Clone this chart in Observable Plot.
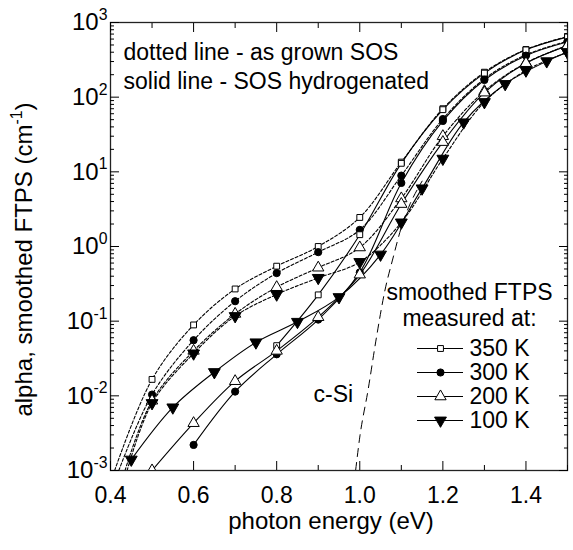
<!DOCTYPE html>
<html><head><meta charset="utf-8">
<script src="https://cdn.jsdelivr.net/npm/d3@7"></script>
<script src="https://cdn.jsdelivr.net/npm/@observablehq/plot@0.6"></script>
<style>
body{margin:0;background:#fff;}
#wrap{position:relative;width:573px;height:550px;font-family:"Liberation Sans",Arial,sans-serif;}
#legend{position:absolute;left:380px;top:280px;}
</style>
</head><body><div id="wrap"><div id="chart"></div><div id="legend"></div></div>
<script>
// ---- tick values ----
const xMajor = [0.4, 0.6, 0.8, 1.0, 1.2, 1.4];
const xMinor = [0.5, 0.7, 0.9, 1.1, 1.3, 1.5];
const yMajor = [1e-3, 1e-2, 1e-1, 1, 10, 100, 1000];

// ---- as grown SOS (dotted) ----
const grownEnergy = [0.5, 0.6, 0.7, 0.8, 0.9, 1.0, 1.1, 1.2, 1.3, 1.4, 1.5];
const grown350K = [0.0166, 0.089, 0.27, 0.545, 1.0, 2.45, 13.5, 70, 216, 435, 650];
const grown300K = [0.0104, 0.0556, 0.185, 0.44, 0.84, 1.67, 8.9, 51, 176, 369, 562];
const grown200K = [0.0086, 0.040, 0.125, 0.285, 0.52, 0.97, 4.4, 30, 120, 288, 492];
const grown100K = [0.0080, 0.037, 0.117, 0.228, 0.38, 0.62, 2.1, 15, 86, 228, 400];
// lead-in of the smoothed as-grown curves (where they leave the bottom edge)
const grownLeadEnergy = [0.41, 0.42, 0.435, 0.44];
const grownLeadAlpha = [0.001, 0.001, 0.001, 0.001];

// ---- SOS hydrogenated (solid) ----
const hydro350Energy = [0.8, 0.9, 1.0, 1.1, 1.2, 1.3, 1.4, 1.5];
const hydro350K = [0.047, 0.225, 1.44, 13, 68, 210, 430, 640];
const hydro300Energy = [0.6, 0.7, 0.8, 0.9, 1.0, 1.1, 1.2, 1.3, 1.4, 1.5];
const hydro300K = [0.0022, 0.0114, 0.036, 0.105, 0.45, 7.1, 48, 170, 360, 550];
const hydro200Energy = [0.5, 0.6, 0.7, 0.8, 0.9, 1.0, 1.1, 1.2, 1.3, 1.4, 1.5];
const hydro200K = [0.001, 0.0043, 0.0157, 0.040, 0.113, 0.42, 3.7, 25, 115, 285, 490];
const hydro100Energy = [0.45, 0.55, 0.65, 0.75, 0.85, 0.95, 1.05, 1.15, 1.25, 1.35, 1.45, 1.5];
const hydro100K = [0.0014, 0.0070, 0.0208, 0.052, 0.098, 0.21, 0.78, 6.0, 46, 150, 303, 400];

// ---- crystalline Si reference (dashed) ----
const cSiEnergy = [0.99, 1.0, 1.02, 1.04, 1.06, 1.08, 1.10, 1.12, 1.14, 1.15];
const cSiAlpha = [0.001, 0.0028, 0.012, 0.06, 0.25, 0.7, 1.8, 3.6, 6.0, 7.5];

const legendLabels = ["350 K", "300 K", "200 K", "100 K"];

// ---- symbols ----
const triangleDown = {
  draw(ctx, size) {
    const y = -Math.sqrt(size / (Math.sqrt(3) * 3));
    ctx.moveTo(0, -2 * y);
    ctx.lineTo(-Math.sqrt(3) * y, y);
    ctx.lineTo(Math.sqrt(3) * y, y);
    ctx.closePath();
  }
};
const styles = {
  "350 K": {symbol: "square", fill: "white", r: 3.3},
  "300 K": {symbol: "circle", fill: "black", r: 3.6},
  "200 K": {symbol: "triangle", fill: "white", r: 4.2},
  "100 K": {symbol: triangleDown, fill: "black", r: 4.4}
};

const pts = (xs, ys) => xs.map((x, i) => ({x, y: ys[i]}));
const grown = [
  {k: "350 K", d: pts(grownEnergy, grown350K), i: 0},
  {k: "300 K", d: pts(grownEnergy, grown300K), i: 1},
  {k: "200 K", d: pts(grownEnergy, grown200K), i: 2},
  {k: "100 K", d: pts(grownEnergy, grown100K), i: 3}
];
const hydro = [
  {k: "350 K", d: pts(hydro350Energy, hydro350K)},
  {k: "300 K", d: pts(hydro300Energy, hydro300K)},
  {k: "200 K", d: pts(hydro200Energy, hydro200K)},
  {k: "100 K", d: pts(hydro100Energy, hydro100K)}
];
const cSi = pts(cSiEnergy, cSiAlpha);

const yMinor = d3.range(-3, 3).flatMap(e => d3.range(2, 10).map(m => m * Math.pow(10, e)));
const font = '"Liberation Sans", Arial, sans-serif';
const blank = () => "";
const note = (s, dx, dy, extra = {}) => Plot.text([s], {frameAnchor: "top-left", text: d => d, textAnchor: "start", lineAnchor: "middle", dx, dy, fontSize: 23, ...extra});

const marks = [
  Plot.frame({stroke: "#222", strokeWidth: 1.3}),
  // inward ticks
  Plot.axisX({anchor: "bottom", ticks: xMajor, tickSize: -9, tickFormat: blank, label: null}),
  Plot.axisX({anchor: "bottom", ticks: xMinor, tickSize: -5, tickFormat: blank, label: null}),
  Plot.axisX({anchor: "top", ticks: xMajor, tickSize: -9, tickFormat: blank, label: null}),
  Plot.axisX({anchor: "top", ticks: xMinor, tickSize: -5, tickFormat: blank, label: null}),
  Plot.axisY({anchor: "left", ticks: yMajor, tickSize: -9, tickFormat: blank, label: null}),
  Plot.axisY({anchor: "left", ticks: yMinor, tickSize: -4, tickFormat: blank, label: null}),
  Plot.axisY({anchor: "right", ticks: yMajor, tickSize: -9, tickFormat: blank, label: null}),
  Plot.axisY({anchor: "right", ticks: yMinor, tickSize: -4, tickFormat: blank, label: null}),
  // tick labels
  Plot.axisX({anchor: "bottom", ticks: xMajor, tickSize: 0, tickPadding: 16, tickFormat: d3.format(".1f"), label: null, fontSize: 23}),
  Plot.axisY({anchor: "left", ticks: yMajor, tickSize: 0, tickPadding: 3, tickFormat: d => `10^{${Math.round(Math.log10(d))}}`, label: null, fontSize: 24}),
  // axis titles
  Plot.text(["photon energy (eV)"], {frameAnchor: "bottom", text: d => d, textAnchor: "middle", lineAnchor: "middle", dy: 51, dx: -8, fontSize: 24}),
  Plot.text(["alpha, smoothed FTPS (cm^{-1})"], {frameAnchor: "left", text: d => d, textAnchor: "middle", lineAnchor: "middle", rotate: -90, dx: -86.5, dy: 13, fontSize: 24}),
  // annotations
  note("dotted line - as grown SOS", 13, 30.6),
  note("solid line - SOS hydrogenated", 13, 59.6),
  note("c-Si", 203, 372.6),
  // c-Si
  Plot.line(cSi, {x: "x", y: "y", stroke: "black", strokeWidth: 1, strokeDasharray: "8,6", curve: "monotone-x", clip: true}),
];
for (const s of grown) {
  const data = [{x: grownLeadEnergy[s.i], y: grownLeadAlpha[s.i]}, ...s.d];
  marks.push(Plot.line(data, {x: "x", y: "y", stroke: "black", strokeWidth: 1.1, strokeDasharray: "3,2", curve: "catmull-rom", clip: true}));
}
for (const s of hydro) {
  marks.push(Plot.line(s.d, {x: "x", y: "y", stroke: "black", strokeWidth: 1.1, curve: "catmull-rom", clip: true}));
}
for (const s of [...grown, ...hydro]) {
  const st = styles[s.k];
  marks.push(Plot.dot(s.d, {x: "x", y: "y", symbol: st.symbol, fill: st.fill, stroke: "black", strokeWidth: 1, r: st.r, clip: true}));
}

const chart = Plot.plot({
  width: 573, height: 550,
  marginLeft: 110, marginRight: 6, marginTop: 22, marginBottom: 80,
  style: {fontFamily: font, fontSize: "23px", color: "black", background: "white", overflow: "visible"},
  x: {domain: [0.4, 1.5]},
  y: {type: "log", domain: [1e-3, 1e3]},
  marks
});
document.getElementById("chart").appendChild(chart);

// legend
const legendMarks = [
  Plot.ruleY(legendLabels, {y: d => d, x1: 0, x2: 1, stroke: "black", strokeWidth: 1.1}),
  Plot.text(legendLabels, {x: 1, y: d => d, text: d => d, textAnchor: "start", lineAnchor: "middle", dx: 6, fontSize: 23}),
  Plot.text(["smoothed FTPS"], {frameAnchor: "top-left", text: d => d, textAnchor: "middle", lineAnchor: "middle", dx: 89, dy: 12.6, fontSize: 23}),
  Plot.text(["measured at:"], {frameAnchor: "top-left", text: d => d, textAnchor: "middle", lineAnchor: "middle", dx: 89, dy: 38.6, fontSize: 23})
];
for (const k of legendLabels) {
  const st = styles[k];
  legendMarks.push(Plot.dot([k], {x: 0.5, y: d => d, symbol: st.symbol, fill: st.fill, stroke: "black", strokeWidth: 1, r: st.r}));
}
const legend = Plot.plot({
  width: 190, height: 160, margin: 0,
  x: {domain: [0, 1], range: [37, 83]},
  y: {type: "point", domain: legendLabels, range: [67, 140], padding: 0},
  axis: null,
  style: {fontFamily: font, fontSize: "23px", color: "black", background: "transparent", overflow: "visible"},
  marks: legendMarks
});
document.getElementById("legend").appendChild(legend);

// superscripts: "base^{sup}rest"
function superscripts(svg) {
  const ns = "http://www.w3.org/2000/svg";
  svg.querySelectorAll("text").forEach(t => {
    const m = t.textContent.match(/^(.*)\^\{([^}]*)\}(.*)$/);
    if (!m) return;
    const fs = parseFloat(t.getAttribute("font-size")) || parseFloat(getComputedStyle(t).fontSize) || 23;
    t.textContent = "";
    const a = document.createElementNS(ns, "tspan"); a.textContent = m[1]; t.appendChild(a);
    const b = document.createElementNS(ns, "tspan"); b.textContent = m[2];
    b.setAttribute("font-size", (fs * 0.66).toFixed(1)); b.setAttribute("dy", (-fs * 0.42).toFixed(1)); t.appendChild(b);
    if (m[3]) { const c = document.createElementNS(ns, "tspan"); c.textContent = m[3]; c.setAttribute("dy", (fs * 0.42).toFixed(1)); t.appendChild(c); }
  });
}
superscripts(chart);
</script></body></html>
